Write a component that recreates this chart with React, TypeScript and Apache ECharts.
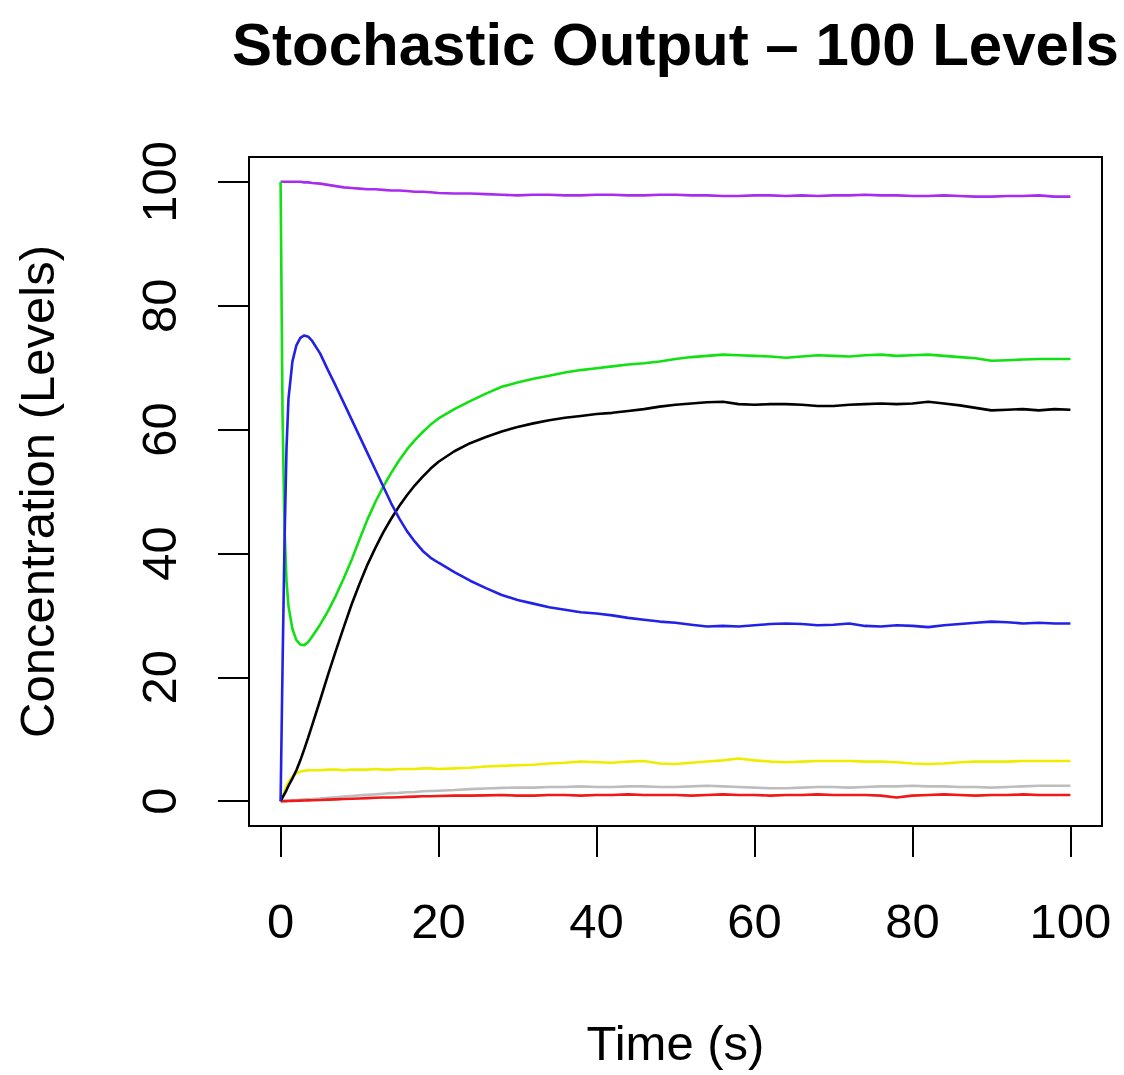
import React, { useEffect, useRef } from "react";
import * as echarts from "echarts";

const TITLE = "Stochastic Output – 100 Levels";
const X_NAME = "Time (s)";
const Y_NAME = "Concentration (Levels)";
const TICKS = [0, 20, 40, 60, 80, 100];

const TIME = [
  0, 0.25, 0.5, 0.75, 1, 1.5, 2, 2.5, 3, 3.5,
  4, 5, 6, 7, 8, 9, 10, 11, 12, 13,
  14, 15, 16, 17, 18, 19, 20, 22, 24, 26,
  28, 30, 32, 34, 36, 38, 40, 42, 44, 46,
  48, 50, 52, 54, 56, 58, 60, 62, 64, 66,
  68, 70, 72, 74, 76, 78, 80, 82, 84, 86,
  88, 90, 92, 94, 96, 98, 100,
];

const PURPLE = [
  100, 100, 100, 100, 100, 100, 100, 100, 99.9, 99.9,
  99.8, 99.7, 99.5, 99.3, 99.1, 99.0, 98.9, 98.8, 98.8, 98.7,
  98.6, 98.6, 98.5, 98.4, 98.4, 98.3, 98.2, 98.1, 98.1, 98.0,
  97.9, 97.8, 97.9, 97.9, 97.8, 97.8, 97.9, 97.9, 97.8, 97.8,
  97.9, 97.9, 97.8, 97.8, 97.7, 97.7, 97.8, 97.8, 97.7, 97.8,
  97.7, 97.8, 97.8, 97.9, 97.8, 97.8, 97.7, 97.7, 97.8, 97.7,
  97.6, 97.6, 97.7, 97.7, 97.8, 97.6, 97.6,
];

const GREEN = [
  100, 62, 44, 35.5, 31.5, 27.8, 26.0, 25.3, 25.2, 25.7,
  26.6, 28.5, 30.7, 33.2, 36.0, 39.0, 42.3, 45.5, 48.3, 50.8,
  53.0, 55.0, 56.8, 58.3, 59.6, 60.8, 61.8, 63.3, 64.6, 65.8,
  66.9, 67.6, 68.2, 68.7, 69.2, 69.6, 69.9, 70.2, 70.5, 70.7,
  71.0, 71.4, 71.7, 71.9, 72.1, 72.0, 71.9, 71.8, 71.6, 71.8,
  72.0, 71.9, 71.8, 72.0, 72.1, 71.9, 72.0, 72.1, 71.9, 71.7,
  71.5, 71.1, 71.2, 71.3, 71.4, 71.4, 71.4,
];

const BLACK = [
  0, 0.6, 1.2, 1.8, 2.5, 3.7, 5.0, 6.6, 8.4, 10.3,
  12.3, 16.3, 20.4, 24.3, 28.1, 31.8, 35.1, 38.2, 40.9, 43.4,
  45.6, 47.6, 49.4, 51.0, 52.4, 53.7, 54.8, 56.5, 57.8, 58.8,
  59.7, 60.4, 61.0, 61.5, 61.9, 62.2, 62.5, 62.7, 63.0, 63.3,
  63.7, 64.0, 64.2, 64.4, 64.5, 64.1, 64.0, 64.1, 64.1, 64.0,
  63.8, 63.8, 64.0, 64.1, 64.2, 64.1, 64.2, 64.5, 64.2, 63.9,
  63.5, 63.1, 63.2, 63.3, 63.1, 63.3, 63.2,
];

const BLUE = [
  0, 22, 42, 57, 65, 71, 73.6, 74.8, 75.2, 75.0,
  74.3, 72.3, 69.6, 67.0, 64.3, 61.6, 58.9, 56.2, 53.5, 50.8,
  48.1, 45.7, 43.6, 41.9, 40.4, 39.3, 38.5, 37.0, 35.6, 34.4,
  33.3, 32.5, 31.9, 31.3, 30.9, 30.5, 30.3, 30.0, 29.6, 29.3,
  29.0, 28.8, 28.5, 28.2, 28.3, 28.2, 28.4, 28.6, 28.7, 28.6,
  28.4, 28.5, 28.7, 28.3, 28.2, 28.4, 28.3, 28.1, 28.4, 28.6,
  28.8, 29.0, 28.9, 28.7, 28.8, 28.7, 28.7,
];

const YELLOW = [
  0, 0.8, 1.6, 2.4, 3.1, 4.0, 4.5, 4.8, 4.9, 5.0,
  5.0, 5.0, 5.1, 5.1, 5.0, 5.1, 5.1, 5.1, 5.2, 5.1,
  5.1, 5.2, 5.2, 5.2, 5.3, 5.3, 5.2, 5.3, 5.4, 5.6,
  5.7, 5.8, 5.9, 6.1, 6.2, 6.4, 6.3, 6.2, 6.4, 6.5,
  6.1, 6.0, 6.2, 6.4, 6.6, 6.9, 6.6, 6.4, 6.3, 6.4,
  6.5, 6.5, 6.5, 6.4, 6.4, 6.3, 6.1, 6.0, 6.1, 6.3,
  6.4, 6.4, 6.4, 6.5, 6.5, 6.5, 6.5,
];

const GRAY = [
  0, 0.02, 0.05, 0.07, 0.1, 0.15, 0.2, 0.25, 0.3, 0.33,
  0.36, 0.45, 0.55, 0.65, 0.75, 0.85, 0.95, 1.05, 1.1, 1.2,
  1.3, 1.35, 1.45, 1.5, 1.6, 1.65, 1.7, 1.8, 1.95, 2.05,
  2.15, 2.2, 2.2, 2.3, 2.3, 2.4, 2.3, 2.3, 2.4, 2.4,
  2.3, 2.3, 2.4, 2.5, 2.4, 2.3, 2.2, 2.1, 2.1, 2.2,
  2.3, 2.3, 2.2, 2.3, 2.4, 2.4, 2.5, 2.4, 2.4, 2.3,
  2.3, 2.2, 2.3, 2.4, 2.5, 2.5, 2.5,
];

const RED = [
  0, 0, 0.01, 0.02, 0.03, 0.05, 0.07, 0.09, 0.11, 0.13,
  0.15, 0.2, 0.25, 0.3, 0.35, 0.4, 0.45, 0.5, 0.55, 0.6,
  0.6, 0.65, 0.7, 0.75, 0.8, 0.8, 0.85, 0.9, 0.9, 0.95,
  1.0, 0.9, 0.9, 1.0, 1.0, 0.9, 1.0, 1.0, 1.1, 1.0,
  1.0, 1.0, 0.9, 1.0, 1.1, 1.0, 1.0, 0.9, 1.0, 1.0,
  1.1, 1.0, 1.0, 1.0, 0.9, 0.6, 0.9, 1.0, 1.1, 1.0,
  0.9, 1.0, 1.0, 1.1, 1.0, 1.0, 1.0,
];

const SERIES = [
  { name: "S1", values: PURPLE, color: "#a82cf0" },
  { name: "S6", values: GRAY, color: "#bdbdbd" },
  { name: "S7", values: RED, color: "#f01818" },
  { name: "S5", values: YELLOW, color: "#eded00" },
  { name: "S3", values: BLACK, color: "#000000" },
  { name: "S2", values: GREEN, color: "#12e012" },
  { name: "S4", values: BLUE, color: "#2222e6" },
];

const FONT = "'Liberation Sans', Arial, Helvetica, sans-serif";

export default function App() {
  const ref = useRef<HTMLDivElement>(null);
  useEffect(() => {
    if (!ref.current) return;
    const chart = echarts.init(ref.current, undefined, { renderer: "svg" });
    chart.setOption({
      animation: false,
      backgroundColor: "#ffffff",
      title: {
        text: TITLE,
        left: 232,
        top: 14,
        padding: 0,
        textStyle: { fontFamily: FONT, fontSize: 60, fontWeight: "bold", color: "#000" },
      },
      grid: {
        left: 249,
        top: 157,
        right: 22,
        bottom: 249,
        show: true,
        borderColor: "#000",
        borderWidth: 2,
        backgroundColor: "transparent",
      },
      xAxis: {
        type: "value",
        min: -4,
        max: 104,
        name: X_NAME,
        nameLocation: "middle",
        nameGap: 192,
        nameTextStyle: { fontFamily: FONT, fontSize: 49, color: "#000" },
        axisLine: { show: false, onZero: false },
        splitLine: { show: false },
        axisTick: {
          show: true,
          inside: false,
          length: 31,
          customValues: TICKS,
          lineStyle: { color: "#000", width: 2 },
        },
        axisLabel: {
          show: true,
          customValues: TICKS,
          margin: 70,
          fontFamily: FONT,
          fontSize: 49,
          color: "#000",
        },
      },
      yAxis: {
        type: "value",
        min: -4,
        max: 104,
        name: Y_NAME,
        nameLocation: "middle",
        nameGap: 188,
        nameTextStyle: { fontFamily: FONT, fontSize: 49, color: "#000" },
        axisLine: { show: false, onZero: false },
        splitLine: { show: false },
        axisTick: {
          show: true,
          inside: false,
          length: 31,
          customValues: TICKS,
          lineStyle: { color: "#000", width: 2 },
        },
        axisLabel: {
          show: true,
          customValues: TICKS,
          rotate: 90,
          margin: 66,
          fontFamily: FONT,
          fontSize: 49,
          color: "#000",
        },
      },
      series: SERIES.map((s) => ({
        type: "line",
        name: s.name,
        data: TIME.map((t, i) => [t, s.values[i]]),
        showSymbol: false,
        symbol: "none",
        smooth: false,
        lineStyle: { color: s.color, width: 2.6 },
        itemStyle: { color: s.color },
        silent: true,
      })),
    });
    return () => chart.dispose();
  }, []);
  return (
    <div
      ref={ref}
      style={{ position: "fixed", left: 0, top: 0, width: 1124, height: 1075 }}
    />
  );
}
